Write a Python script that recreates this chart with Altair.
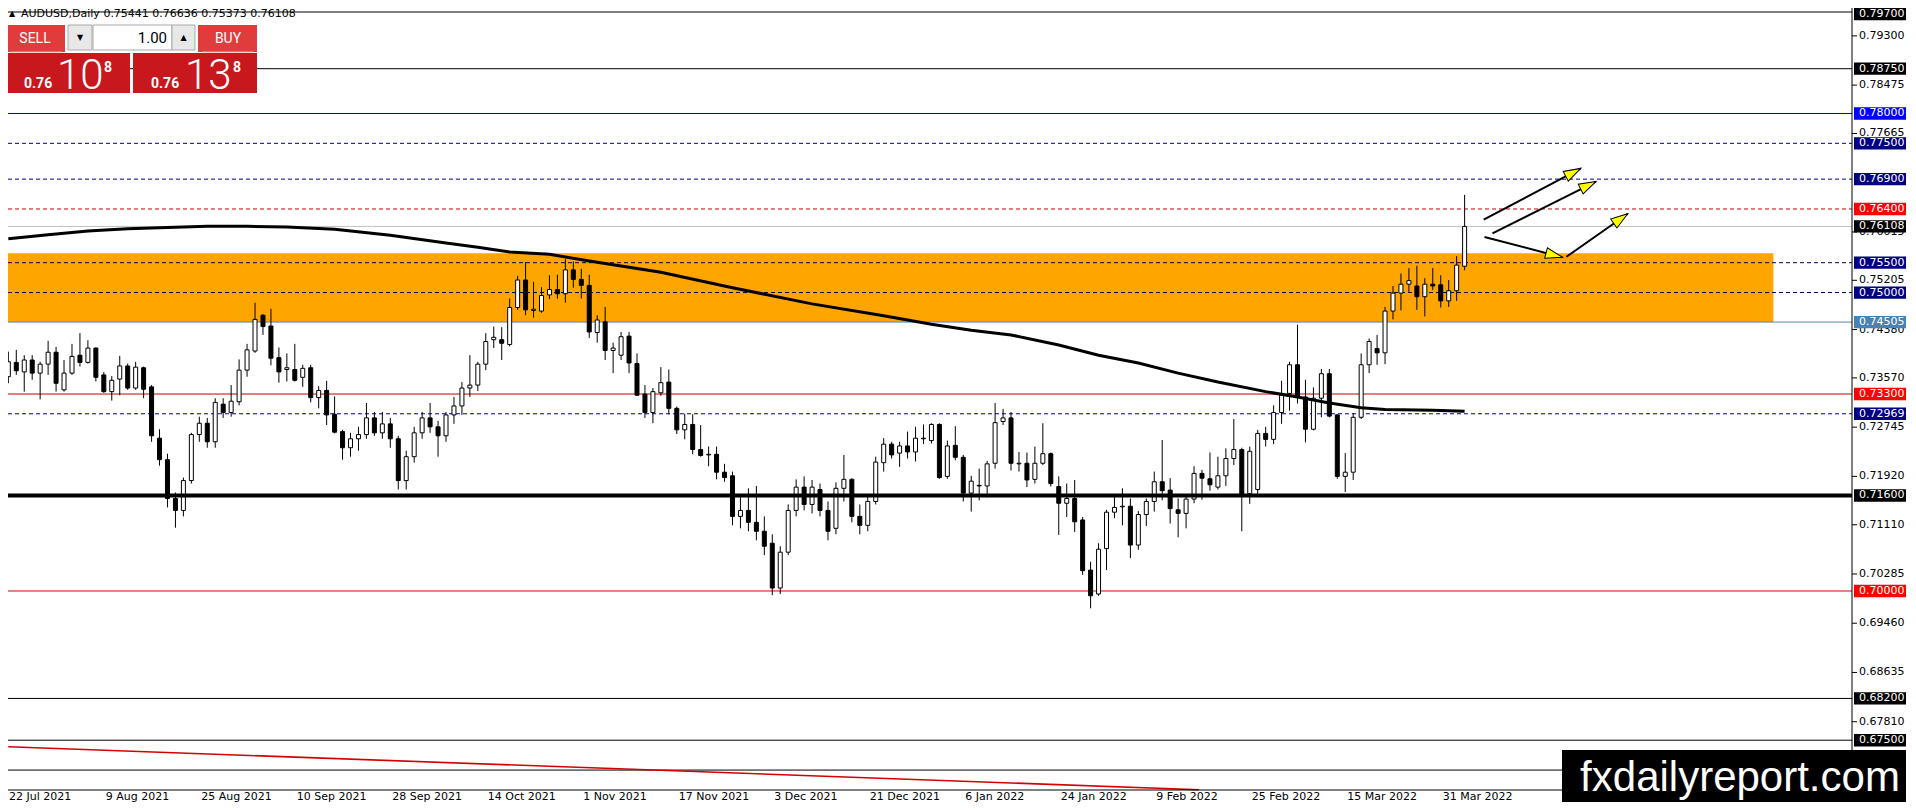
import math
import altair as alt
import pandas as pd

# ---------------- data (one bar per trading day, 22 Jul 2021 .. 5 Apr 2022) ----------------
opens = [
    0.7359, 0.7383, 0.7367, 0.7387, 0.7365, 0.7380, 0.7400, 0.7337, 0.7365, 0.7395,
    0.7383, 0.7407, 0.7362, 0.7334, 0.7355, 0.7377, 0.7340, 0.7374, 0.7342, 0.7256,
    0.7220, 0.7155, 0.7135, 0.7185, 0.7262, 0.7281, 0.7250, 0.7313, 0.7299, 0.7317,
    0.7370, 0.7402, 0.7462, 0.7444, 0.7391, 0.7371, 0.7371, 0.7358, 0.7374, 0.7324,
    0.7336, 0.7296, 0.7267, 0.7240, 0.7255, 0.7262, 0.7290, 0.7265, 0.7280, 0.7255,
    0.7185, 0.7225, 0.7265, 0.7290, 0.7275, 0.7260, 0.7295, 0.7310, 0.7340, 0.7345,
    0.7380, 0.7421, 0.7421, 0.7413, 0.7475, 0.7521, 0.7470, 0.7469, 0.7496, 0.7505,
    0.7498, 0.7538, 0.7522, 0.7512, 0.7433, 0.7451, 0.7403, 0.7395, 0.7427, 0.7381,
    0.7330, 0.7299, 0.7332, 0.7350, 0.7306, 0.7270, 0.7279, 0.7237, 0.7228, 0.7229,
    0.7199, 0.7193, 0.7125, 0.7135, 0.7115, 0.7100, 0.7080, 0.7005, 0.7065, 0.7135,
    0.7174, 0.7145, 0.7170, 0.7135, 0.7105, 0.7172, 0.7187, 0.7125, 0.7110, 0.7150,
    0.7215, 0.7246, 0.7231, 0.7243, 0.7233, 0.7255, 0.7252, 0.7279, 0.7192, 0.7244,
    0.7224, 0.7164, 0.7177, 0.7176, 0.7214, 0.7284, 0.7290, 0.7213, 0.7214, 0.7187,
    0.7214, 0.7230, 0.7175, 0.7147, 0.7155, 0.7119, 0.7035, 0.6995, 0.7071, 0.7132,
    0.7141, 0.7142, 0.7077, 0.7128, 0.7150, 0.7183, 0.7169, 0.7136, 0.7130, 0.7154,
    0.7197, 0.7188, 0.7174, 0.7193, 0.7222, 0.7237, 0.7163, 0.7170, 0.7264, 0.7254,
    0.7299, 0.7331, 0.7379, 0.7325, 0.7271, 0.7323, 0.7364, 0.7295, 0.7192, 0.7199,
    0.7291, 0.7379, 0.7406, 0.7399, 0.7469, 0.7499, 0.7514, 0.7511, 0.7493, 0.7514,
    0.7513, 0.7486, 0.7503, 0.75441,
]
highs = [
    0.7401, 0.7404, 0.7395, 0.7395, 0.7384, 0.7419, 0.7409, 0.7387, 0.7414, 0.7432,
    0.7420, 0.7408, 0.7367, 0.7360, 0.7394, 0.7381, 0.7384, 0.7376, 0.7345, 0.7271,
    0.7230, 0.7165, 0.7190, 0.7265, 0.7292, 0.7290, 0.7323, 0.7323, 0.7345, 0.7388,
    0.7414, 0.7483, 0.7464, 0.7473, 0.7408, 0.7398, 0.7414, 0.7379, 0.7379, 0.7343,
    0.7352, 0.7326, 0.7270, 0.7265, 0.7275, 0.7315, 0.7300, 0.7300, 0.7290, 0.7260,
    0.7235, 0.7275, 0.7300, 0.7315, 0.7285, 0.7300, 0.7325, 0.7350, 0.7395, 0.7384,
    0.7432, 0.7443, 0.7442, 0.7490, 0.7528, 0.7551, 0.7518, 0.7509, 0.7529, 0.7530,
    0.7556, 0.7552, 0.7540, 0.7530, 0.7462, 0.7476, 0.7416, 0.7434, 0.7434, 0.7398,
    0.7345, 0.7340, 0.7375, 0.7371, 0.7309, 0.7297, 0.7296, 0.7278, 0.7242, 0.7242,
    0.7213, 0.7200, 0.7160, 0.7172, 0.7176, 0.7125, 0.7095, 0.7075, 0.7145, 0.7187,
    0.7192, 0.7186, 0.7180, 0.7150, 0.7182, 0.7228, 0.7189, 0.7145, 0.7158, 0.7225,
    0.7256, 0.7250, 0.7250, 0.7267, 0.7275, 0.7279, 0.7281, 0.7281, 0.7252, 0.7276,
    0.7228, 0.7193, 0.7205, 0.7218, 0.7315, 0.7305, 0.7300, 0.7233, 0.7232, 0.7242,
    0.7281, 0.7232, 0.7192, 0.7180, 0.7186, 0.7124, 0.7049, 0.7080, 0.7136, 0.7161,
    0.7172, 0.7155, 0.7134, 0.7155, 0.7200, 0.7253, 0.7189, 0.7155, 0.7161, 0.7209,
    0.7203, 0.7232, 0.7225, 0.7239, 0.7288, 0.7240, 0.7242, 0.7270, 0.7275, 0.7311,
    0.7352, 0.7384, 0.7446, 0.7354, 0.7341, 0.7372, 0.7372, 0.7296, 0.7231, 0.7298,
    0.7398, 0.7423, 0.7429, 0.7476, 0.7511, 0.7532, 0.7541, 0.7545, 0.7524, 0.7541,
    0.7529, 0.7521, 0.7561, 0.76636,
]
lows = [
    0.7348, 0.7362, 0.7334, 0.7354, 0.7321, 0.7362, 0.7334, 0.7334, 0.7362, 0.7376,
    0.7381, 0.7351, 0.7332, 0.7319, 0.7328, 0.7337, 0.7337, 0.7323, 0.7250, 0.7210,
    0.7140, 0.7106, 0.7125, 0.7180, 0.7250, 0.7240, 0.7240, 0.7290, 0.7292, 0.7311,
    0.7359, 0.7399, 0.7429, 0.7378, 0.7349, 0.7351, 0.7351, 0.7342, 0.7316, 0.7306,
    0.7278, 0.7264, 0.7220, 0.7225, 0.7235, 0.7255, 0.7260, 0.7255, 0.7240, 0.7170,
    0.7170, 0.7215, 0.7255, 0.7265, 0.7225, 0.7250, 0.7280, 0.7295, 0.7325, 0.7335,
    0.7370, 0.7407, 0.7387, 0.7410, 0.7471, 0.7462, 0.7458, 0.7466, 0.7489, 0.7490,
    0.7483, 0.7508, 0.7490, 0.7424, 0.7416, 0.7387, 0.7365, 0.7387, 0.7365, 0.7327,
    0.7290, 0.7281, 0.7327, 0.7296, 0.7263, 0.7254, 0.7229, 0.7225, 0.7209, 0.7187,
    0.7183, 0.7110, 0.7105, 0.7100, 0.7085, 0.7060, 0.6993, 0.6995, 0.7060, 0.7125,
    0.7135, 0.7130, 0.7125, 0.7085, 0.7095, 0.7150, 0.7115, 0.7095, 0.7100, 0.7145,
    0.7200, 0.7222, 0.7208, 0.7222, 0.7217, 0.7246, 0.7247, 0.7188, 0.7188, 0.7219,
    0.7150, 0.7133, 0.7152, 0.7157, 0.7205, 0.7278, 0.7202, 0.7200, 0.7174, 0.7180,
    0.7211, 0.7175, 0.7094, 0.7124, 0.7099, 0.7027, 0.6971, 0.6992, 0.7035, 0.7122,
    0.7110, 0.7055, 0.7069, 0.7109, 0.7133, 0.7152, 0.7113, 0.7090, 0.7105, 0.7147,
    0.7153, 0.7168, 0.7170, 0.7176, 0.7211, 0.7100, 0.7146, 0.7160, 0.7242, 0.7246,
    0.7280, 0.7302, 0.7314, 0.7249, 0.7269, 0.7291, 0.7291, 0.7188, 0.7166, 0.7186,
    0.7288, 0.7365, 0.7379, 0.7380, 0.7455, 0.7470, 0.7501, 0.7471, 0.7460, 0.7504,
    0.7475, 0.7476, 0.7486, 0.75373,
]
closes = [
    0.7384, 0.7369, 0.7387, 0.7365, 0.7380, 0.7400, 0.7348, 0.7365, 0.7393, 0.7383,
    0.7407, 0.7358, 0.7334, 0.7353, 0.7377, 0.7340, 0.7375, 0.7338, 0.7260, 0.7220,
    0.7155, 0.7135, 0.7185, 0.7262, 0.7281, 0.7250, 0.7316, 0.7299, 0.7318, 0.7370,
    0.7404, 0.7455, 0.7443, 0.7390, 0.7367, 0.7374, 0.7353, 0.7373, 0.7324, 0.7336,
    0.7295, 0.7266, 0.7240, 0.7255, 0.7262, 0.7290, 0.7265, 0.7280, 0.7255, 0.7185,
    0.7225, 0.7265, 0.7290, 0.7275, 0.7260, 0.7295, 0.7310, 0.7340, 0.7345, 0.7380,
    0.7418, 0.7425, 0.7415, 0.7475, 0.7521, 0.7471, 0.7472, 0.7495, 0.7505, 0.7498,
    0.7538, 0.7522, 0.7512, 0.7434, 0.7454, 0.7403, 0.7407, 0.7426, 0.7382, 0.7328,
    0.7299, 0.7334, 0.7349, 0.7306, 0.7270, 0.7279, 0.7237, 0.7227, 0.7229, 0.7199,
    0.7190, 0.7125, 0.7135, 0.7115, 0.7100, 0.7075, 0.7005, 0.7065, 0.7135, 0.7174,
    0.7145, 0.7174, 0.7135, 0.7100, 0.7172, 0.7187, 0.7125, 0.7110, 0.7150, 0.7216,
    0.7246, 0.7228, 0.7243, 0.7233, 0.7256, 0.7256, 0.7279, 0.7190, 0.7243, 0.7224,
    0.7164, 0.7184, 0.7176, 0.7213, 0.7282, 0.7290, 0.7214, 0.7214, 0.7186, 0.7214,
    0.7230, 0.7180, 0.7147, 0.7155, 0.7116, 0.7034, 0.6992, 0.7070, 0.7132, 0.7140,
    0.7142, 0.7077, 0.7128, 0.7150, 0.7183, 0.7168, 0.7138, 0.7130, 0.7154, 0.7197,
    0.7189, 0.7178, 0.7193, 0.7222, 0.7237, 0.7160, 0.7234, 0.7264, 0.7254, 0.7299,
    0.7328, 0.7379, 0.7327, 0.7271, 0.7323, 0.7364, 0.7293, 0.7192, 0.7199, 0.7291,
    0.7379, 0.7418, 0.7399, 0.7469, 0.7499, 0.7514, 0.7520, 0.7493, 0.7514, 0.7511,
    0.7486, 0.7503, 0.7546, 0.76108,
]

# moving average line, read at selected bars
ma_bars = [0, 5, 10, 15, 20, 25, 30, 35, 41, 48, 55, 59, 63, 68, 73, 82, 91, 101, 110, 116,
           121, 126, 132, 137, 142, 147, 152, 158, 162, 166, 170, 173, 179, 183]
ma_values = [0.7590, 0.7597, 0.7603, 0.7607, 0.7609, 0.7611, 0.7611, 0.7610, 0.7606, 0.7596,
             0.7583, 0.7576, 0.7568, 0.7564, 0.7553, 0.7534, 0.7508, 0.7481, 0.7461, 0.7447,
             0.7437, 0.7429, 0.7412, 0.7395, 0.7382, 0.7365, 0.7350, 0.7334, 0.7325, 0.7315,
             0.7307, 0.7304, 0.7303, 0.7301]

# orange resistance zone
zone_bars = [-1.0, 221.8]
zone_prices = [0.74505, 0.7566]

# red trend line at the bottom
trend_bars = [0.0, 149.6]
trend_prices = [0.6739, 0.6667]

# drawn arrows
arrow_from_bar = [185.4, 186.5, 185.5, 195.8]
arrow_from_price = [0.7622, 0.7599, 0.7593, 0.7560]
arrow_to_bar = [197.6, 199.5, 195.3, 203.5]
arrow_to_price = [0.7708, 0.7686, 0.7559, 0.7632]

# horizontal levels with their price-scale labels
level_prices = [0.797, 0.7875, 0.78, 0.775, 0.769, 0.764, 0.76108, 0.755, 0.75, 0.74505,
                0.733, 0.72969, 0.716, 0.70, 0.682, 0.675, 0.670]
level_texts = ["0.79700", "0.78750", "0.78000", "0.77500", "0.76900", "0.76400", "0.76108",
               "0.75500", "0.75000", "0.74505", "0.73300", "0.72969", "0.71600", "0.70000",
               "0.68200", "0.67500", "0.67000"]

# plain price-scale ticks (the ones not hidden behind the labels)
axis_tick_values = [0.79300, 0.78475, 0.77665, 0.76015, 0.75205, 0.74380, 0.73570,
                    0.72745, 0.71920, 0.71110, 0.70285, 0.69460, 0.68635, 0.67810]

# time-scale labels (every 12 bars)
date_bars = [0, 12, 24, 36, 48, 60, 72, 84, 96, 108, 120, 132, 144, 156, 168, 180]
date_texts = ["22 Jul 2021", "9 Aug 2021", "25 Aug 2021", "10 Sep 2021", "28 Sep 2021",
              "14 Oct 2021", "1 Nov 2021", "17 Nov 2021", "3 Dec 2021", "21 Dec 2021",
              "6 Jan 2022", "24 Jan 2022", "9 Feb 2022", "25 Feb 2022", "15 Mar 2022",
              "31 Mar 2022"]

header_text = "AUDUSD,Daily  0.75441 0.76636 0.75373 0.76108"
lot_text = "1.00"
price_head = "0.76"
sell_big = "10"
buy_big = "13"
pip_digit = "8"
watermark_text = "fxdailyreport.com"

# ---------------- geometry (reference pixel -> chart pixel) ----------------
W, H = 1898, 794
BAR_PX = 8.0          # reference pixels per bar
BAR0_PX = 3.3         # reference x of first bar
PRICE_PX = 5969.0     # reference pixels per price unit
P_REF, P_REF_Y = 0.797, 12.0
OFF = 8.0             # page margin


def X(xr):
    return xr - OFF


def Y(yr):
    return yr - OFF


xs = alt.Scale(domain=[(OFF - BAR0_PX) / BAR_PX, (OFF + W - BAR0_PX) / BAR_PX],
               nice=False, zero=False)
ys = alt.Scale(domain=[P_REF - (OFF + H - P_REF_Y) / PRICE_PX,
                       P_REF + (P_REF_Y - OFF) / PRICE_PX], nice=False, zero=False)
ONE = pd.DataFrame({"k": [0]})
FONT = "DejaVu Sans"


def px_rect(x0, y0, x1, y1, fill, stroke=None):
    kw = {"fill": fill}
    if stroke:
        kw.update(stroke=stroke, strokeWidth=1)
    return alt.Chart(ONE).mark_rect(**kw).encode(
        x=alt.value(max(X(x0), 0)), x2=alt.value(X(x1)),
        y=alt.value(Y(y0)), y2=alt.value(Y(y1)))


def px_text(x, y, s, size, color, font=FONT, weight="normal", align="left", baseline="middle"):
    return alt.Chart(ONE).mark_text(text=s, fontSize=size, color=color, font=font,
                                    fontWeight=weight, align=align, baseline=baseline).encode(
        x=alt.value(X(x)), y=alt.value(Y(y)))


def px_rule(x0, y0, x1, y1, color="#000000", w=1):
    return alt.Chart(ONE).mark_rule(color=color, strokeWidth=w).encode(
        x=alt.value(X(x0)), x2=alt.value(X(x1)), y=alt.value(Y(y0)), y2=alt.value(Y(y1)))


layers = []

# zone
zone_df = pd.DataFrame({"x0": [zone_bars[0]], "x1": [zone_bars[1]],
                        "p0": [zone_prices[0]], "p1": [zone_prices[1]]})
layers.append(alt.Chart(zone_df).mark_rect(color="#ffa500").encode(
    x=alt.X("x0:Q", scale=xs, axis=None), x2="x1:Q",
    y=alt.Y("p0:Q", scale=ys, axis=None), y2="p1:Q"))

# levels
line_color = ["#000000", "#000000", "#0000b4", "#000080", "#000080", "#cc0000", "#c0c0c0",
              "#000050", "#000050", "#5b87a8", "#cc0000", "#000080", "#000000", "#d40000",
              "#000000", "#000000", "#000000"]
line_kind = ["solid", "solid", "solid", "dash", "dash", "dash", "solid", "dash", "dash", "solid",
             "solid", "dash", "thick", "solid", "solid", "solid", "solid"]
box_color = ["#000000", "#000000", "#0000ff", "#000080", "#000080", "#ff0000", "#000000",
             "#000080", "#000080", "#4682b4", "#ff0000", "#000080", "#000000", "#ff0000",
             "#000000", "#000000", "#000000"]
lv = pd.DataFrame({"p": level_prices, "txt": level_texts, "col": line_color,
                   "kind": line_kind, "box": box_color})
lv_vis = lv[(lv["p"] > 0.672) & (lv["p"] < 0.796)]   # lowest label sits under the watermark
lv_top = lv[lv["p"] >= 0.796]                          # top label, nudged into view


def level_rules(kind, **mk):
    sub = lv[lv["kind"] == kind]
    return alt.Chart(sub).mark_rule(**mk).encode(
        y=alt.Y("p:Q", scale=ys, axis=None), x=alt.value(0), x2=alt.value(X(1852)),
        color=alt.Color("col:N", scale=None))


layers.append(level_rules("solid", strokeWidth=1))
layers.append(level_rules("dash", strokeWidth=1, strokeDash=[4, 3]))

# trend line
trend_df = pd.DataFrame({"b": trend_bars, "p": trend_prices})
layers.append(alt.Chart(trend_df).mark_line(color="#d40000", strokeWidth=1.6).encode(
    x=alt.X("b:Q", scale=xs, axis=None), y=alt.Y("p:Q", scale=ys, axis=None)))

# candles
candles = pd.DataFrame({"i": list(range(len(opens))), "o": opens, "h": highs,
                        "l": lows, "c": closes})
candles["top"] = candles[["o", "c"]].max(axis=1)
candles["bot"] = candles[["o", "c"]].min(axis=1)
candles["fill"] = ["#ffffff" if c >= o else "#000000" for o, c in zip(opens, closes)]
layers.append(alt.Chart(candles).mark_rule(color="#000000", strokeWidth=1).encode(
    x=alt.X("i:Q", scale=xs, axis=None), y=alt.Y("l:Q", scale=ys, axis=None), y2="h:Q"))
layers.append(alt.Chart(candles).mark_bar(size=4, stroke="#000000", strokeWidth=1).encode(
    x=alt.X("i:Q", scale=xs, axis=None), y=alt.Y("bot:Q", scale=ys, axis=None), y2="top:Q",
    fill=alt.Fill("fill:N", scale=None)))

# moving average
ma_df = pd.DataFrame({"b": ma_bars, "v": ma_values})
layers.append(alt.Chart(ma_df).mark_line(color="#000000", strokeWidth=3).encode(
    x=alt.X("b:Q", scale=xs, axis=None), y=alt.Y("v:Q", scale=ys, axis=None)))

# thick 0.716 level on top
layers.append(level_rules("thick", strokeWidth=4))

# arrows
angles = []
for a, b, c, d in zip(arrow_from_bar, arrow_from_price, arrow_to_bar, arrow_to_price):
    dx = (c - a) * BAR_PX
    dy = -(d - b) * PRICE_PX
    angles.append(math.degrees(math.atan2(dx, -dy)) % 360)
arr = pd.DataFrame({"x1": arrow_from_bar, "p1": arrow_from_price,
                    "x2": arrow_to_bar, "p2": arrow_to_price, "ang": angles})
layers.append(alt.Chart(arr).mark_rule(color="#000000", strokeWidth=2).encode(
    x=alt.X("x1:Q", scale=xs, axis=None), y=alt.Y("p1:Q", scale=ys, axis=None),
    x2="x2:Q", y2="p2:Q"))
layers.append(alt.Chart(arr).mark_point(
    shape="M0,0L0.32,1L-0.32,1Z", size=1156, filled=True, fill="#ffff00",
    stroke="#000000", strokeWidth=1, opacity=1).encode(
    x=alt.X("x2:Q", scale=xs, axis=None), y=alt.Y("p2:Q", scale=ys, axis=None),
    angle=alt.Angle("ang:Q", scale=None)))

# frame
layers.append(px_rule(1852, 8, 1852, 790))
layers.append(px_rule(8, 790, 1852, 790))

# price scale ticks
tk = pd.DataFrame({"p": axis_tick_values, "txt": [f"{v:.5f}" for v in axis_tick_values]})
layers.append(alt.Chart(tk).mark_rule(color="#000000", strokeWidth=1).encode(
    y=alt.Y("p:Q", scale=ys, axis=None), x=alt.value(X(1852)), x2=alt.value(X(1857))))
layers.append(alt.Chart(tk).mark_text(align="left", baseline="middle", font=FONT, fontSize=11,
                                      color="#000000").encode(
    y=alt.Y("p:Q", scale=ys, axis=None), x=alt.value(X(1859)), text="txt:N"))

# level label boxes
BOX = "M-1,-0.22H1V0.22H-1Z"
for sub, off in ((lv_vis, 0), (lv_top, 2)):
    layers.append(alt.Chart(sub).mark_point(shape=BOX, size=3136, filled=True, opacity=1,
                                            strokeWidth=0, yOffset=off).encode(
        y=alt.Y("p:Q", scale=ys, axis=None), x=alt.value(X(1882)),
        fill=alt.Fill("box:N", scale=None)))
    layers.append(alt.Chart(sub).mark_text(align="left", baseline="middle", font=FONT,
                                           fontSize=11, color="#ffffff", dy=off).encode(
        y=alt.Y("p:Q", scale=ys, axis=None), x=alt.value(X(1859)), text="txt:N"))

# time scale
dd = pd.DataFrame({"b": date_bars, "t": date_texts})
layers.append(alt.Chart(dd.iloc[1:]).mark_text(align="left", baseline="middle", dx=2, font=FONT,
                                               fontSize=11, color="#000000").encode(
    x=alt.X("b:Q", scale=xs, axis=None), y=alt.value(Y(797)), text="t:N"))
layers.append(alt.Chart(dd.iloc[:1]).mark_text(align="left", baseline="middle", font=FONT,
                                               fontSize=11, color="#000000").encode(
    x=alt.value(1), y=alt.value(Y(797)), text="t:N"))

# header
layers.append(px_text(9, 13.5, "\u25b2", 8, "#000000"))
layers.append(px_text(21, 13.5, header_text, 11, "#000000"))

# one-click trading panel
layers.append(px_rect(3, 25, 65, 52, "#e13c3c"))
layers.append(px_rect(198, 25, 257, 52, "#e13c3c"))
layers.append(px_rect(3, 53, 130, 93, "#c8171d"))
layers.append(px_rect(133, 53, 257, 93, "#c8171d"))
layers.append(px_rect(10, 51.5, 62, 52.5, "#f3a3a3"))
layers.append(px_rect(202, 51.5, 253, 52.5, "#f3a3a3"))
layers.append(px_rect(68, 25, 92, 50, "#e8e8e8", "#a8a8a8"))
layers.append(px_rect(93, 25, 172, 50, "#ffffff", "#a8a8a8"))
layers.append(px_rect(172, 25, 195, 50, "#e8e8e8", "#a8a8a8"))
layers.append(px_text(35, 39, "SELL", 14, "#ffffff", font="Roboto", align="center"))
layers.append(px_text(228, 39, "BUY", 14, "#ffffff", font="Roboto", align="center"))
layers.append(px_text(80, 38, "\u25bc", 8, "#000000", align="center"))
layers.append(px_text(183.5, 38, "\u25b2", 8, "#000000", align="center"))
layers.append(px_text(167, 38, lot_text, 15, "#000000", font="Roboto", align="right"))
layers.append(px_text(24, 88, price_head, 14, "#ffffff", font="Roboto", weight="bold",
                      baseline="alphabetic"))
layers.append(px_text(57, 88.5, sell_big, 42, "#ffffff", font="Roboto", weight=300,
                      baseline="alphabetic"))
layers.append(px_text(104, 72, pip_digit, 14, "#ffffff", font="Roboto", weight="bold",
                      baseline="alphabetic"))
layers.append(px_text(151, 88, price_head, 14, "#ffffff", font="Roboto", weight="bold",
                      baseline="alphabetic"))
layers.append(px_text(185, 88.5, buy_big, 42, "#ffffff", font="Roboto", weight=300,
                      baseline="alphabetic"))
layers.append(px_text(233, 72, pip_digit, 14, "#ffffff", font="Roboto", weight="bold",
                      baseline="alphabetic"))

# watermark
layers.append(px_rect(1562, 750, 1916, 812, "#000000"))
layers.append(px_text(1740, 791, watermark_text, 42, "#ffffff", font="Liberation Sans",
                      align="center", baseline="alphabetic"))

chart = alt.layer(*layers).properties(
    width=W, height=H, padding=0, background="#ffffff",
    autosize=alt.AutoSizeParams(type="none"),
).configure_view(strokeWidth=0)

chart.save("out.html", embed_options={"renderer": "svg", "actions": False})
